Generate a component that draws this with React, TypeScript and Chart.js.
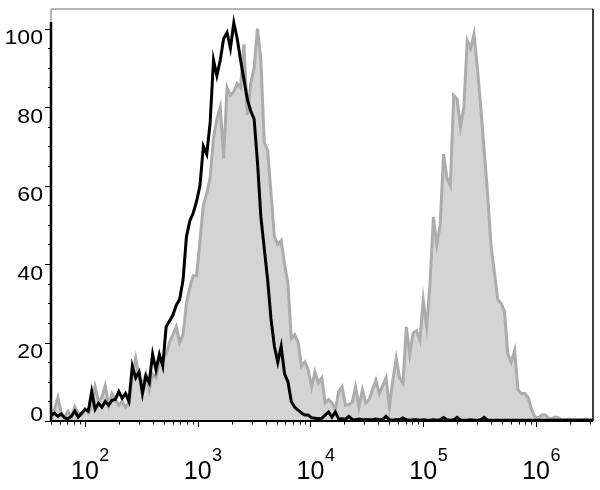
import React, { useEffect, useRef } from 'react';
import { Chart, registerables } from 'chart.js';

Chart.register(...registerables);

// Histogram bins: log10 of the channel value at each bin centre
const binLogStart = 1.7;
const binLogStep = 0.03;

// Grey filled histogram (counts, % of max)
const grayCounts = [
  0.5, 3, 6, 2, 1, 2.5, 1, 3.6, 2, 1.5,
  3, 2, 4, 8.7, 5, 6, 9, 4, 7, 5.5,
  4, 5, 3.5, 4.5, 12, 16, 11, 9.5, 12, 8,
  12, 11, 15, 16, 17, 20, 22, 24, 20, 22,
  30, 34, 37, 37, 46, 55, 58, 62, 72, 77,
  80, 67, 85, 83, 84, 86, 85, 96, 78, 86,
  90, 100, 92, 71, 69, 58, 47, 45, 46, 40,
  35, 21, 22, 20, 14, 15, 13, 8.7, 12.5, 9.7,
  11, 4.6, 5.5, 4.6, 2.8, 7.5, 8.7, 4, 4.2, 4.8,
  8.7, 3.6, 7.9, 4.6, 5.5, 8, 10.4, 7, 9, 11,
  3.6, 10.4, 16, 11, 9.7, 24, 17, 22.4, 23, 20.6,
  30.8, 24, 35, 52, 45, 50, 68, 62, 60, 83,
  82, 75, 80, 97, 95, 98.6, 90, 80, 69, 58,
  45, 38, 31, 30, 28, 17, 15, 18, 8, 7,
  7, 6, 3, 1, 0.8, 1.5, 1.5, 0.8, 0.6, 1,
  0.8, 0.3, 0.3, 0.5, 0.3, 0.3, 0.3, 0.3, 0.5, 0.3,
  0.3,
];

// Black outline histogram
const blackCounts = [
  1.5, 2, 1.2, 1.8, 0.8, 0.6, 1.2, 2.5, 1, 2,
  3, 2.5, 7.5, 3, 4.5, 3.5, 5, 4, 5.3, 5.5,
  7.5, 5.8, 7, 5, 14, 11, 12.5, 7, 11.5, 9.8,
  17, 13, 17, 14, 24, 25.5, 27, 29.5, 31, 36,
  47, 51, 53, 56, 60, 70, 68, 76, 92, 88,
  92, 97.5, 99, 95, 101.5, 97.5, 92, 87, 82, 79,
  77, 66, 52, 44, 36, 26, 19, 15, 19, 12,
  10, 5, 3.5, 2.8, 2, 1.5, 1.5, 0.8, 0.7, 0.6,
  0.7, 1.5, 2.3, 1, 2.3, 0.5, 0.6, 0.4, 1.2, 0.4,
  0.3, 0.5, 0.3, 0.4, 0.3, 0.3, 0.5, 0.3, 0.4, 1.2,
  0.3, 0.2, 0.4, 0.3, 0.8, 0.3, 0.2, 0.3, 0.3, 0.2,
  0.3, 0.2, 0.2, 0.3, 0.2, 0.3, 0.9, 0.3, 0.2, 0.3,
  0.9, 0.2, 0.2, 0.2, 0.3, 0.2, 0.2, 0.3, 0.9, 0.2,
  0.2, 0.2, 0.2, 0.2, 0.2, 0.2, 0.2, 0.2, 0.2, 0.2,
  0.2, 0.2, 0.2, 0.2, 0.2, 0.2, 0.2, 0.2, 0.2, 0.2,
  0.2, 0.2, 0.2, 0.2, 0.2, 0.2, 0.2, 0.2, 0.2, 0.2,
  0.2,
];

const xMin = 50;
const xMax = 3.2e6;
const yMin = 0;
const yMax = 105;

const xMajorTicks = [100, 1000, 10000, 100000, 1000000];
const xMajorExponents = ['2', '3', '4', '5', '6'];
const xMinorMultipliers = [2, 3, 4, 5, 6, 7, 8, 9];
const xDecades = [10, 100, 1000, 10000, 100000, 1000000];

const yMajorTicks = [0, 20, 40, 60, 80, 100];
const yMajorLabels = ['0', '20', '40', '60', '80', '100'];
const yMinorStep = 5;
const yAxisLineTop = 101.7;

const FONT = '"Liberation Sans", Arial, sans-serif';

const binCenter = (i: number) => Math.pow(10, binLogStart + binLogStep * i);

const framePlugin = {
  id: 'frame',
  afterDatasetsDraw(chart: any) {
    const { ctx, chartArea: a, scales } = chart;
    const xs = scales.x;
    const ys = scales.y;
    ctx.save();

    // top border (grey)
    ctx.strokeStyle = '#9c9c9c';
    ctx.lineWidth = 1.5;
    ctx.beginPath();
    ctx.moveTo(a.left, a.top);
    ctx.lineTo(a.right, a.top);
    ctx.stroke();
    ctx.beginPath();
    ctx.moveTo(a.left, a.top);
    ctx.lineTo(a.left, ys.getPixelForValue(yAxisLineTop));
    ctx.stroke();

    // right border
    ctx.strokeStyle = '#000';
    ctx.lineWidth = 1.5;
    ctx.beginPath();
    ctx.moveTo(a.right, a.top);
    ctx.lineTo(a.right, a.bottom);
    ctx.stroke();

    // left axis
    ctx.lineWidth = 2.5;
    ctx.beginPath();
    ctx.moveTo(a.left, ys.getPixelForValue(yAxisLineTop));
    ctx.lineTo(a.left, a.bottom + 1);
    ctx.stroke();

    // bottom axis
    ctx.lineWidth = 2;
    ctx.beginPath();
    ctx.moveTo(a.left - 1, a.bottom);
    ctx.lineTo(a.right, a.bottom);
    ctx.stroke();

    // y ticks
    ctx.lineWidth = 1;
    for (let v = yMin; v <= 100; v += yMinorStep) {
      const py = Math.round(ys.getPixelForValue(v)) + 0.5;
      const major = yMajorTicks.includes(v);
      ctx.beginPath();
      ctx.moveTo(a.left - (major ? 6 : 3), py);
      ctx.lineTo(a.left, py);
      ctx.stroke();
    }

    // x ticks
    for (const d of xDecades) {
      for (const m of [1, ...xMinorMultipliers]) {
        const v = d * m;
        if (v < xMin || v > xMax) continue;
        const px = Math.round(xs.getPixelForValue(v)) + 0.5;
        const major = m === 1;
        ctx.beginPath();
        ctx.moveTo(px, a.bottom);
        ctx.lineTo(px, a.bottom + (major ? 6 : 3.5));
        ctx.stroke();
      }
    }

    // y labels (slightly wide type, as in the reference)
    ctx.fillStyle = '#000';
    ctx.font = `21px ${FONT}`;
    ctx.textAlign = 'right';
    ctx.textBaseline = 'alphabetic';
    yMajorTicks.forEach((v, i) => {
      const py = ys.getPixelForValue(v);
      const base = v === 0 ? a.bottom : py + 15.5;
      ctx.save();
      ctx.translate(43, base);
      ctx.scale(1.1, 1);
      ctx.fillText(yMajorLabels[i], 0, 0);
      ctx.restore();
    });

    // x labels: 10 with superscript exponent
    xMajorTicks.forEach((v, i) => {
      const px = xs.getPixelForValue(v);
      ctx.font = `25px ${FONT}`;
      ctx.textAlign = 'center';
      const w = ctx.measureText('10').width;
      ctx.fillText('10', px, 479);
      ctx.font = `18px ${FONT}`;
      ctx.textAlign = 'left';
      ctx.fillText(xMajorExponents[i], px + w / 2 + 0.5, 461);
    });

    ctx.restore();
  },
};

export default function App() {
  const ref = useRef<HTMLCanvasElement>(null);

  useEffect(() => {
    if (!ref.current) return;
    const grayData = grayCounts.map((y, i) => ({ x: binCenter(i), y }));
    const blackData = blackCounts.map((y, i) => ({ x: binCenter(i), y }));
    const chart = new Chart(ref.current, {
      type: 'line',
      data: {
        datasets: [
          {
            label: 'sample',
            data: blackData,
            borderColor: '#000000',
            borderWidth: 3,
            fill: false,
            pointRadius: 0,
            tension: 0,
          },
          {
            label: 'control',
            data: grayData,
            borderColor: '#acacac',
            backgroundColor: '#d4d4d4',
            borderWidth: 3,
            fill: 'origin',
            pointRadius: 0,
            tension: 0,
          },
        ],
      },
      options: {
        animation: false,
        responsive: false,
        events: [],
        layout: { padding: { left: 51, right: 7, top: 9, bottom: 69 } },
        plugins: {
          legend: { display: false },
          tooltip: { enabled: false },
        },
        scales: {
          x: { type: 'logarithmic', min: xMin, max: xMax, display: false },
          y: { type: 'linear', min: yMin, max: yMax, display: false },
        },
      },
      plugins: [framePlugin],
    });
    return () => chart.destroy();
  }, []);

  return (
    <div style={{ position: 'absolute', left: 0, top: 0, width: 600, height: 490, background: '#fff' }}>
      <canvas ref={ref} width={600} height={490} style={{ display: 'block', width: 600, height: 490 }} />
    </div>
  );
}
